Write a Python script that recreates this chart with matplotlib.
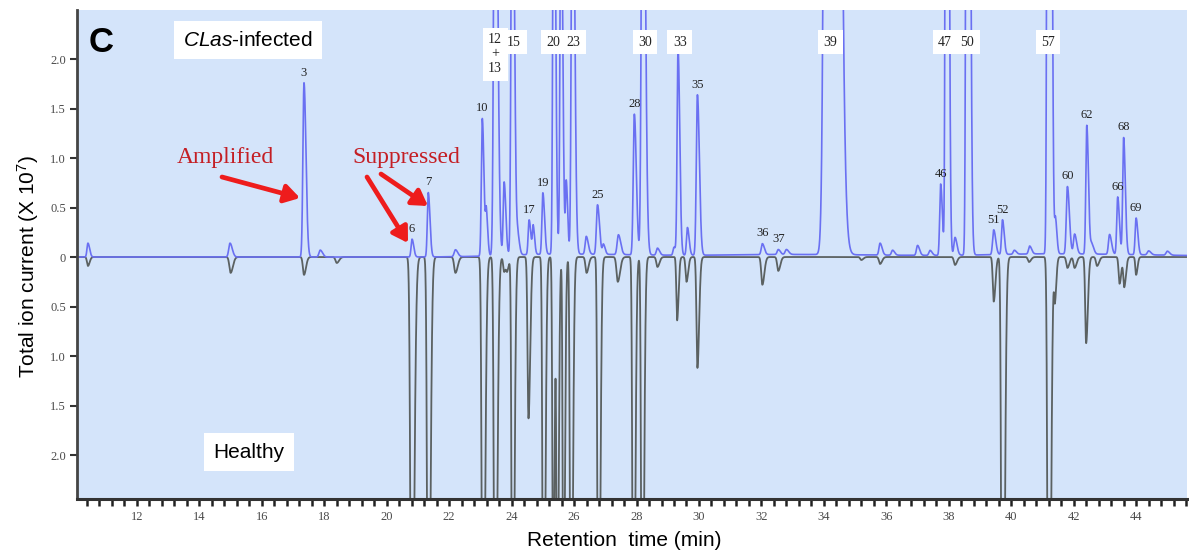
import numpy as np
import matplotlib
matplotlib.use('Agg')
import matplotlib.pyplot as plt
from matplotlib.ticker import MultipleLocator

plt.rcParams['mathtext.fontset'] = 'custom'
plt.rcParams['mathtext.rm'] = 'Liberation Sans'
plt.rcParams['mathtext.it'] = 'Liberation Sans:italic'

# peak tables, retention time (min), height (x 10^7), width (min)
# CLas-infected sample (drawn upwards); the last three rows are the broad
# column-bleed hump under the later peaks
inf_t = [10.43, 14.98, 17.35, 17.87, 20.81, 21.33, 22.2, 23.06, 23.19, 23.47,
         23.76, 24.02, 24.2, 24.56, 24.69, 25.0, 25.35, 25.58, 25.75, 25.95,
         26.39, 26.75, 26.94, 27.42, 27.93, 28.2, 28.67, 29.2, 29.33, 29.63,
         29.95, 32.03, 32.54, 32.8, 34.2, 35.8, 36.2, 37.0, 37.4, 37.74,
         37.93, 38.2, 38.6, 39.44, 39.72, 40.1, 40.59, 41.2, 41.42, 41.8,
         42.03, 42.42, 42.58, 43.15, 43.41, 43.6, 44.0, 44.4, 45.0,
         25.5, 33.0, 41.5]
inf_h = [0.14, 0.14, 1.76, 0.07, 0.18, 0.65, 0.07, 1.39, 0.42, 6.0,
         0.74, 5.0, 0.18, 0.35, 0.28, 0.62, 5.0, 4.0, 0.72, 5.0,
         0.18, 0.50, 0.10, 0.20, 1.42, 6.0, 0.07, 0.08, 2.08, 0.28,
         1.62, 0.11, 0.05, 0.05, 40.0, 0.12, 0.05, 0.10, 0.05, 0.72,
         15.0, 0.18, 15.0, 0.25, 0.35, 0.04, 0.08, 20.0, 0.33, 0.68,
         0.20, 1.30, 0.10, 0.20, 0.58, 1.18, 0.37, 0.04, 0.04,
         0.03, 0.025, 0.03]
inf_w = [0.03, 0.04, 0.035, 0.04, 0.03, 0.03, 0.04, 0.03, 0.025, 0.04,
         0.03, 0.035, 0.03, 0.03, 0.025, 0.03, 0.03, 0.03, 0.025, 0.035,
         0.035, 0.035, 0.03, 0.04, 0.035, 0.04, 0.035, 0.03, 0.03, 0.03,
         0.035, 0.035, 0.035, 0.04, 0.10, 0.035, 0.035, 0.035, 0.035, 0.03,
         0.03, 0.035, 0.035, 0.035, 0.03, 0.035, 0.035, 0.035, 0.025, 0.035,
         0.035, 0.03, 0.035, 0.035, 0.03, 0.03, 0.03, 0.04, 0.04,
         1.6, 2.2, 2.0]

# healthy sample (drawn downwards)
hea_t = [10.43, 15.0, 17.35, 18.4, 20.8, 21.33, 22.2, 23.08, 23.47, 23.76,
         23.86, 24.03, 24.54, 25.02, 25.33, 25.46, 25.66, 25.9, 26.4, 26.78,
         27.4, 27.9, 28.18, 28.67, 29.3, 29.6, 29.95, 32.03, 32.54, 35.2,
         35.8, 38.2, 39.44, 39.72, 40.57, 41.2, 41.4, 41.8, 42.03, 42.4,
         42.75, 43.47, 43.62, 44.0]
hea_h = [0.09, 0.16, 0.18, 0.06, 5.0, 5.0, 0.16, 5.0, 5.0, 0.15,
         0.12, 5.0, 1.63, 5.0, 3.5, 4.0, 4.0, 5.0, 0.16, 5.0,
         0.25, 5.0, 5.0, 0.10, 0.64, 0.25, 1.12, 0.28, 0.14, 0.03,
         0.07, 0.08, 0.45, 6.0, 0.05, 6.0, 0.43, 0.11, 0.11, 0.87,
         0.09, 0.27, 0.30, 0.18]
hea_w = [0.03, 0.04, 0.035, 0.04, 0.04, 0.035, 0.04, 0.035, 0.035, 0.03,
         0.03, 0.03, 0.03, 0.03, 0.025, 0.025, 0.025, 0.03, 0.035, 0.03,
         0.04, 0.03, 0.03, 0.035, 0.025, 0.03, 0.03, 0.035, 0.035, 0.035,
         0.035, 0.035, 0.03, 0.035, 0.035, 0.035, 0.025, 0.035, 0.035, 0.03,
         0.035, 0.03, 0.03, 0.025]

# numbered peaks on the infected trace
num_lab = ['3', '6', '7', '10', '17', '19', '25', '28', '35', '36', '37',
           '46', '51', '52', '60', '62', '66', '68', '69']
num_t = [17.35, 20.81, 21.33, 23.06, 24.56, 25.0, 26.75, 27.93, 29.95, 32.03,
         32.54, 37.74, 39.44, 39.72, 41.8, 42.42, 43.41, 43.6, 44.0]
# off-scale peaks, labelled in boxes
big_lab = ['12\n+\n13', '15', '20', '23', '30', '33', '39', '47', '50', '57']
big_t = [23.47, 24.08, 25.33, 25.97, 28.27, 29.39, 34.2, 37.88, 38.59, 41.18]

ytick_pos = [-2.0, -1.5, -1.0, -0.5, 0, 0.5, 1.0, 1.5, 2.0]
ytick_lab = ['2.0', '1.5', '1.0', '0.5', '0', '0.5', '1.0', '1.5', '2.0']


def chromatogram(t, ts, hs, ws, tail=1.8):
    y = np.zeros_like(t)
    for t0, h, s in zip(ts, hs, ws):
        sig = np.where(t < t0, s, s * tail)
        y += h * np.exp(-0.5 * ((t - t0) / sig) ** 2)
    return y


t = np.linspace(10.0, 45.7, 14000)
up = chromatogram(t, inf_t, inf_h, inf_w)
down = -chromatogram(t, hea_t, hea_h, hea_w)

W, H = 1189, 556
fig = plt.figure(figsize=(W / 100, H / 100), dpi=100)
ax = fig.add_axes([77 / W, 1 - 499 / H, 1110 / W, 489 / H])
ax.set_facecolor('#d4e4fa')

ax.plot(t, down, color='#5b6161', lw=1.3)
ax.plot(t, up, color='#6a70f2', lw=1.2)

ax.set_xlim(10.08, 45.63)
ax.set_ylim(-2.444, 2.495)

serif = 'Liberation Serif'
ax.xaxis.set_minor_locator(MultipleLocator(0.4))
ax.set_xticks(range(12, 46, 2))
ax.tick_params(axis='x', which='both', direction='out', length=5, width=1.8,
               color='#222222', pad=4, labelsize=9, labelcolor='#4a4a4a')
ax.set_yticks(ytick_pos)
ax.set_yticklabels(ytick_lab)
ax.tick_params(axis='y', direction='out', length=5, width=1.5,
               color='#333333', pad=3, labelsize=9, labelcolor='#4a4a4a')
for lab in ax.get_xticklabels() + ax.get_yticklabels():
    lab.set_fontfamily(serif)

for side in ['top', 'right']:
    ax.spines[side].set_visible(False)
ax.spines['left'].set_color('#444444')
ax.spines['left'].set_linewidth(2)
ax.spines['bottom'].set_color('#333333')
ax.spines['bottom'].set_linewidth(2.2)

# peak numbers just above each apex
for lab, t0 in zip(num_lab, num_t):
    h = up[np.argmin(np.abs(t - t0))]
    ax.annotate(lab, (t0, h), xytext=(0, 3), textcoords='offset points',
                ha='center', va='bottom', fontsize=9, family=serif,
                color='#222222')

box = dict(boxstyle='square,pad=0.4', fc='white', ec='none')
for lab, t0 in zip(big_lab, big_t):
    yy = 2.05 if '+' in lab else 2.17
    ax.text(t0, yy, lab, ha='center', va='center', fontsize=10,
            family=serif, color='#222222', linespacing=1.15, bbox=box)

# panel letter and sample names
fig.text(101 / W, 1 - 42 / H, 'C', fontsize=25, fontweight='bold',
         family='Liberation Sans', ha='center', va='center')
wbox = dict(boxstyle='square,pad=0.45', fc='white', ec='none')
fig.text(248 / W, 1 - 40 / H, r'$\mathit{CLas}$-infected', fontsize=15,
         family='Liberation Sans', ha='center', va='center', bbox=wbox)
fig.text(249 / W, 1 - 452 / H, 'Healthy', fontsize=15,
         family='Liberation Sans', ha='center', va='center', bbox=wbox)
fig.text(28 / W, 1 - 266 / H, r'Total ion current (X 10$^{7}$)', fontsize=15,
         family='Liberation Sans', rotation=90, ha='center', va='center',
         bbox=dict(boxstyle='square,pad=0.4', fc='white', ec='none'))
fig.text(624 / W, 1 - 541 / H, 'Retention  time (min)', fontsize=15,
         family='Liberation Sans', ha='center', va='center',
         bbox=dict(boxstyle='square,pad=0.5', fc='white', ec='none'))

# amplified / suppressed call-outs
red_txt = '#c41e24'
red_arr = '#ee1c1c'
arrow = dict(arrowstyle='-|>,head_length=0.9,head_width=0.55', lw=3.4,
             color=red_arr, shrinkA=0, shrinkB=0)
fig.text(225 / W, 1 - 158 / H, 'Amplified', fontsize=17, family=serif,
         color=red_txt, ha='center', va='center')
fig.text(406 / W, 1 - 158 / H, 'Suppressed', fontsize=17, family=serif,
         color=red_txt, ha='center', va='center')
pix = lambda x, y: (x / W, 1 - y / H)
ax.annotate('', xy=pix(300, 198), xytext=pix(222, 177),
            xycoords='figure fraction', textcoords='figure fraction',
            arrowprops=arrow)
ax.annotate('', xy=pix(408, 243), xytext=pix(367, 177),
            xycoords='figure fraction', textcoords='figure fraction',
            arrowprops=arrow)
ax.annotate('', xy=pix(428, 206), xytext=pix(381, 174),
            xycoords='figure fraction', textcoords='figure fraction',
            arrowprops=arrow)

fig.savefig('out.png', dpi=100, facecolor='white')
